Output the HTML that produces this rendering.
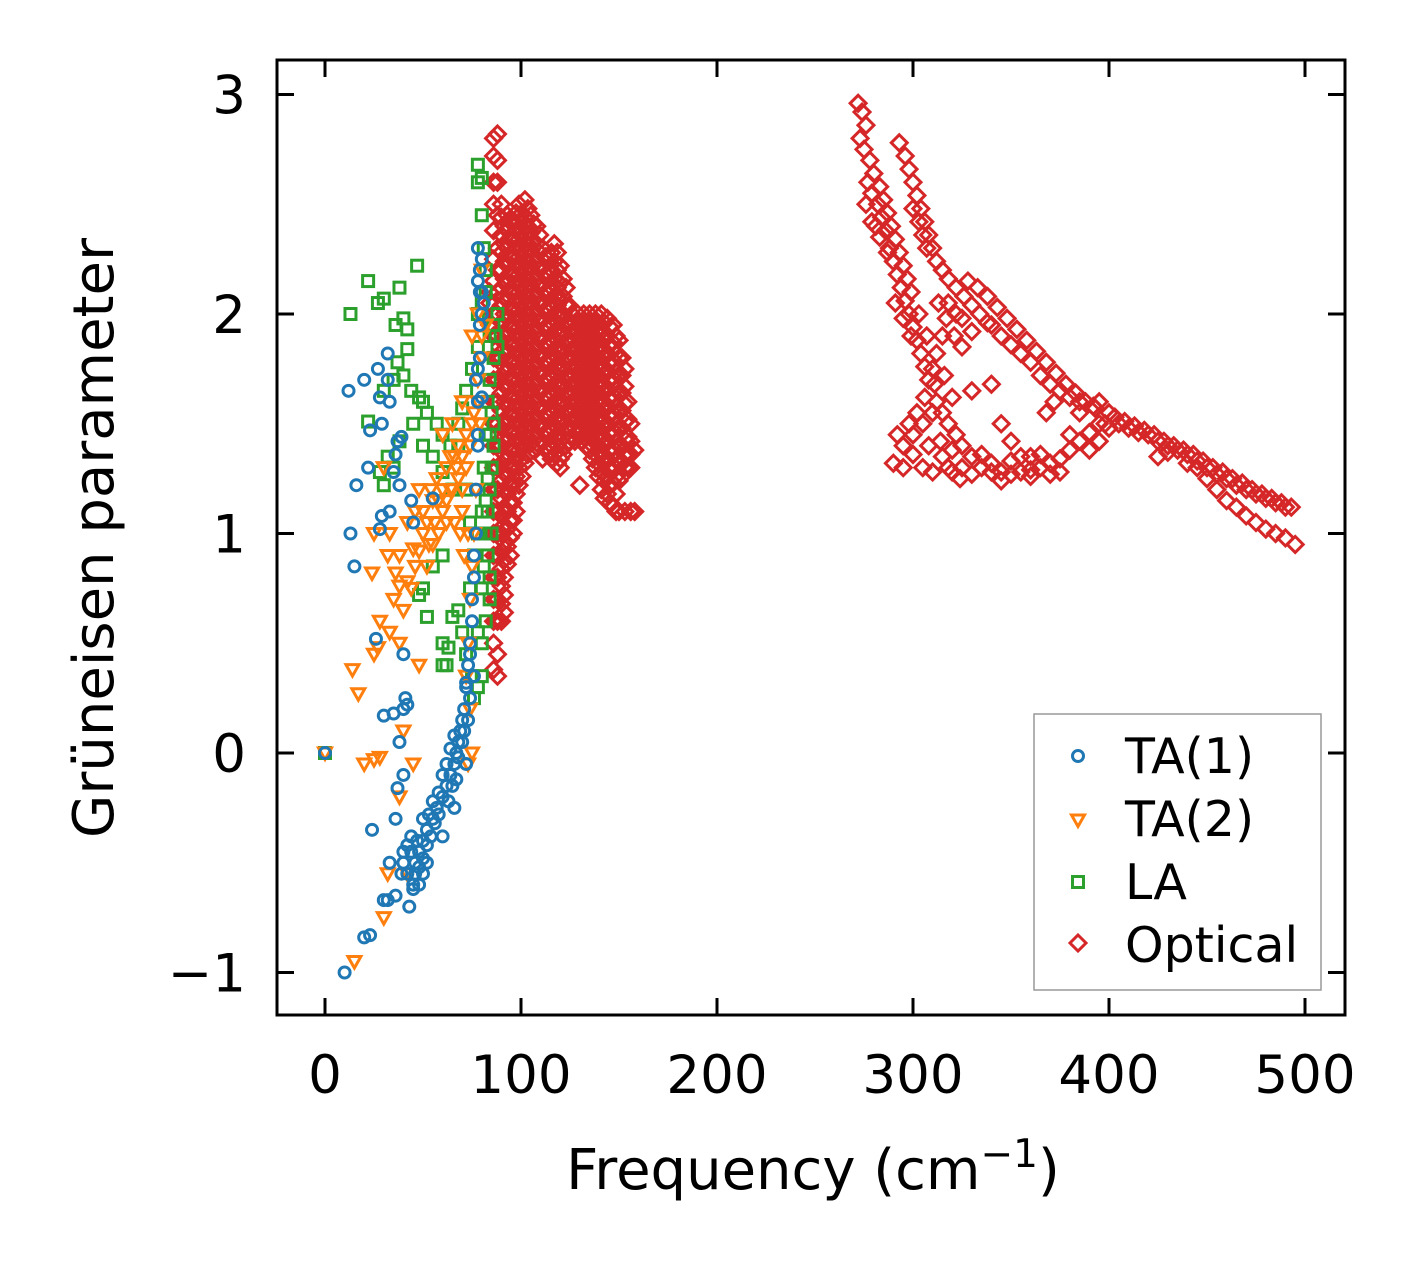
<!DOCTYPE html>
<html><head><meta charset="utf-8"><style>
html,body{margin:0;padding:0;background:#fff;}
svg{display:block;font-family:"DejaVu Sans","Liberation Sans",sans-serif;}
</style></head><body>
<svg id="chart" width="1421" height="1264" viewBox="0 0 1421 1264">
<g id="marks"></g>
<g id="axes"></g>
</svg>
<script>
// ---- data ----
const xTicks=[0,100,200,300,400,500];
const yTicks=[-1,0,1,2,3];
const yTickLabels=["\u22121","0","1","2","3"];
const seriesNames=["TA(1)","TA(2)","LA","Optical"];
const ta1=[[0,0],[10,-1],[20,-0.84],[23,-0.83],[24,-0.35],[30,-0.67],[32,-0.67],[36,-0.65],[33,-0.5],[36,-0.3],[37,-0.16],[40,-0.45],[42,-0.55],[43,-0.7],[45,-0.62],[46,-0.5],[48,-0.45],[50,-0.4],[52,-0.35],[55,-0.3],[57,-0.25],[60,-0.2],[62,-0.15],[64,-0.1],[66,-0.05],[67,0],[68,0.05],[69,0.1],[70,0.15],[71,0.2],[72,0.3],[73,0.4],[74,0.5],[75,0.6],[76,0.8],[77,1.0],[77,1.2],[78,1.4],[78,1.6],[79,1.8],[80,2.0],[80,2.1],[79,2.2],[78,2.3],[81,2.05],[40,-0.1],[38,0.05],[40,0.2],[41,0.25],[42,0.22],[35,0.18],[30,0.17],[26,0.52],[40,0.45],[15,0.85],[13,1.0],[16,1.22],[12,1.65],[22,1.3],[23,1.47],[28,1.02],[29,1.08],[33,1.1],[35,1.28],[38,1.22],[36,1.36],[37,1.42],[39,1.44],[29,1.5],[33,1.6],[28,1.62],[32,1.7],[27,1.75],[32,1.82],[20,1.7],[44,1.15],[45,1.05],[55,1.16],[72,0.32],[74,0.45],[75,0.7],[76,0.9],[78,1.45],[77,1.7],[78,1.75],[80,1.62],[44,-0.45],[46,-0.55],[48,-0.52],[50,-0.48],[52,-0.42],[54,-0.38],[56,-0.32],[58,-0.28],[42,-0.42],[44,-0.38],[47,-0.4],[50,-0.3],[53,-0.28],[55,-0.22],[58,-0.18],[60,-0.1],[62,-0.05],[64,0.02],[66,0.08],[63,-0.22],[65,-0.15],[67,-0.12],[68,-0.02],[70,0.05],[71,0.1],[45,-0.6],[48,-0.6],[50,-0.55],[52,-0.5],[40,-0.5],[39,-0.55],[60,-0.38],[66,-0.25],[72,-0.05],[73,0.15],[74,0.25],[76,0.35],[79,2.1],[80,2.25],[78,2.15],[79,1.95]];
const ta2=[[0,0],[15,-0.95],[20,-0.05],[25,-0.03],[28,-0.02],[17,0.27],[14,0.38],[25,0.45],[27,0.48],[28,0.6],[33,0.55],[38,0.5],[40,0.65],[35,0.7],[38,0.76],[42,0.78],[36,0.82],[32,0.9],[24,0.82],[25,1.0],[30,1.3],[33,1.0],[38,0.9],[42,1.05],[45,0.93],[46,0.85],[48,0.92],[50,1.0],[52,1.05],[55,0.95],[58,1.0],[60,1.1],[62,1.15],[65,1.2],[67,1.3],[70,1.35],[72,1.45],[75,1.5],[78,1.6],[80,1.8],[82,1.95],[80,1.9],[79,1.5],[77,1.2],[76,1.0],[75,0.85],[74,0.7],[73,0.5],[72,0.35],[74,0.2],[75,0.0],[73,-0.05],[50,1.1],[55,1.15],[52,0.85],[48,1.2],[57,1.25],[62,1.3],[64,1.35],[60,1.45],[65,1.5],[68,1.25],[70,1.1],[66,1.05],[44,0.75],[40,0.1],[38,-0.2],[42,-0.55],[30,-0.75],[32,-0.55],[45,-0.05],[48,0.4],[46,1.1],[75,1.9],[78,2.0],[80,2.2],[78,1.7],[70,1.6],[62,1.05],[58,1.15],[54,1.2],[68,1.4],[70,1.2],[72,1.3],[74,1.4],[76,1.55],[66,1.35],[64,1.2],[60,1.2],[56,1.05],[53,0.95],[71,0.9],[73,1.0],[69,1.0]];
const la=[[0,0],[13,2.0],[22,2.15],[27,2.05],[30,2.07],[38,2.12],[47,2.22],[36,1.95],[40,1.98],[42,1.93],[42,1.84],[35,1.7],[37,1.78],[22,1.51],[30,1.65],[40,1.72],[44,1.65],[48,1.62],[50,1.6],[52,1.55],[57,1.5],[60,1.45],[64,1.4],[68,1.4],[32,1.35],[28,1.28],[30,1.22],[35,1.3],[38,1.42],[45,1.5],[50,1.4],[55,1.35],[60,1.28],[65,1.2],[68,1.5],[70,1.57],[72,1.65],[75,1.75],[78,1.85],[78,2.0],[80,2.05],[82,2.1],[80,2.45],[78,2.6],[78,2.68],[80,2.62],[81,2.3],[82,2.2],[84,1.9],[86,1.8],[88,1.85],[88,2.0],[86,1.5],[85,1.3],[84,1.2],[83,1.1],[82,1.0],[83,0.9],[84,0.7],[82,0.6],[80,0.5],[80,0.35],[78,0.3],[76,0.25],[75,0.35],[72,0.45],[70,0.55],[68,0.65],[65,0.62],[60,0.5],[62,0.4],[63,0.48],[60,0.9],[55,0.85],[50,0.75],[52,0.62],[48,0.72],[60,0.4],[74,0.75],[76,0.9],[78,1.0],[80,1.1],[81,1.3],[82,1.45],[83,1.6],[84,1.7],[86,1.4],[85,1.0],[84,0.8],[78,0.55],[74,1.05],[72,1.2],[86,1.95],[87,1.9],[85,1.55],[84,1.45],[83,1.25],[82,1.15],[81,0.85],[80,0.75]];
const opticalColumns="84:1.95,2.05,2.1;86:2.8,2.72,2.6,2.5,2.38,2.25,2.15,2.0,1.9,1.8,1.7,1.6,1.5,1.4,1.3,1.2,1.1,1.0,0.9,0.8,0.7,0.6,0.5,0.38;88:2.82,2.7,2.6,2.45,2.3,2.2,2.1,2.0,1.9,1.8,1.7,1.6,1.5,1.4,1.3,1.2,1.1,1.0,0.9,0.8,0.7,0.6,0.45,0.35;90:2.5,2.44,2.36,2.28,2.2,2.12,2.04,1.96,1.88,1.8,1.72,1.64,1.56,1.48,1.4,1.32,1.24,1.16,1.08,1.0,0.92,0.84,0.76,0.68,0.6;93:2.45,2.38,2.3,2.22,2.14,2.06,1.98,1.9,1.82,1.74,1.66,1.58,1.5,1.42,1.34,1.26,1.18,1.1,1.02,0.94,0.86;96:2.42,2.34,2.26,2.18,2.1,2.02,1.94,1.86,1.78,1.7,1.62,1.54,1.46,1.38,1.3,1.22,1.14,1.06,1.0;99:2.5,2.42,2.34,2.26,2.18,2.1,2.02,1.94,1.86,1.78,1.7,1.62,1.54,1.46,1.38,1.3,1.22;102:2.52,2.44,2.36,2.28,2.2,2.12,2.04,1.96,1.88,1.8,1.72,1.64,1.56,1.48,1.4,1.32;105:2.45,2.37,2.29,2.21,2.13,2.05,1.97,1.89,1.81,1.73,1.65,1.57,1.49,1.41;108:2.4,2.32,2.24,2.16,2.08,2.0,1.92,1.84,1.76,1.68,1.6,1.52,1.44;111:2.3,2.22,2.14,2.06,1.98,1.9,1.82,1.74,1.66,1.58,1.5,1.42,1.34;114:2.25,2.17,2.09,2.01,1.93,1.85,1.77,1.69,1.61,1.53,1.45,1.37;117:2.32,2.24,2.16,2.08,2.0,1.92,1.84,1.76,1.68,1.6,1.52,1.44,1.36;120:2.22,2.14,2.06,1.98,1.9,1.82,1.74,1.66,1.58,1.5,1.42,1.34,1.3;123:2.12,2.04,1.96,1.88,1.8,1.72,1.64,1.56,1.48,1.4;126:2.0,1.92,1.84,1.76,1.68,1.6,1.52,1.44;129:2.0,1.92,1.84,1.76,1.68,1.6,1.52,1.45;130:1.22;132:2.0,1.92,1.84,1.76,1.68,1.6,1.52,1.44;135:2.0,1.92,1.84,1.76,1.68,1.6,1.52,1.44,1.38;138:2.0,1.92,1.84,1.76,1.68,1.6,1.52,1.44,1.36,1.3;141:2.0,1.92,1.84,1.76,1.68,1.6,1.52,1.44,1.36,1.28,1.2;144:1.98,1.9,1.82,1.74,1.66,1.58,1.5,1.42,1.34,1.26,1.18;147:1.95,1.87,1.79,1.71,1.63,1.55,1.47,1.39,1.31,1.23,1.12;150:1.88,1.8,1.72,1.64,1.56,1.48,1.4,1.32,1.24,1.1;153:1.75,1.67,1.59,1.51,1.43,1.36,1.3,1.1;156:1.5,1.42,1.36,1.3,1.1;158:1.38,1.1";
const opticalColumnsFill="91.5:2.4,2.32,2.24,2.16,2.08,2.0,1.92,1.84,1.76,1.68,1.6,1.52,1.44,1.36,1.28,1.2,1.12,1.04,0.96,0.88,0.8,0.72,0.64;94.5:2.42,2.34,2.26,2.18,2.1,2.02,1.94,1.86,1.78,1.7,1.62,1.54,1.46,1.38,1.3,1.22,1.14,1.06,0.98,0.9;97.5:2.46,2.38,2.3,2.22,2.14,2.06,1.98,1.9,1.82,1.74,1.66,1.58,1.5,1.42,1.34,1.26,1.18,1.1;100.5:2.46,2.38,2.3,2.22,2.14,2.06,1.98,1.9,1.82,1.74,1.66,1.58,1.5,1.42,1.34,1.26;103.5:2.48,2.4,2.32,2.24,2.16,2.08,2.0,1.92,1.84,1.76,1.68,1.6,1.52,1.44,1.36;106.5:2.41,2.33,2.25,2.17,2.09,2.01,1.93,1.85,1.77,1.69,1.61,1.53,1.45,1.38;109.5:2.36,2.28,2.2,2.12,2.04,1.96,1.88,1.8,1.72,1.64,1.56,1.48,1.4;112.5:2.26,2.18,2.1,2.02,1.94,1.86,1.78,1.7,1.62,1.54,1.46,1.38;115.5:2.28,2.2,2.12,2.04,1.96,1.88,1.8,1.72,1.64,1.56,1.48,1.4,1.34;118.5:2.28,2.2,2.12,2.04,1.96,1.88,1.8,1.72,1.64,1.56,1.48,1.4,1.32;121.5:2.16,2.08,2.0,1.92,1.84,1.76,1.68,1.6,1.52,1.44,1.36;124.5:2.04,1.96,1.88,1.8,1.72,1.64,1.56,1.48,1.42;127.5:1.96,1.88,1.8,1.72,1.64,1.56,1.48,1.42;130.5:1.96,1.88,1.8,1.72,1.64,1.56,1.48,1.42;133.5:1.96,1.88,1.8,1.72,1.64,1.56,1.48,1.4;136.5:1.96,1.88,1.8,1.72,1.64,1.56,1.48,1.4,1.34;139.5:1.96,1.88,1.8,1.72,1.64,1.56,1.48,1.4,1.32,1.26;142.5:1.96,1.88,1.8,1.72,1.64,1.56,1.48,1.4,1.32,1.24,1.16;145.5:1.94,1.86,1.78,1.7,1.62,1.54,1.46,1.38,1.3,1.22,1.14;148.5:1.9,1.82,1.74,1.66,1.58,1.5,1.42,1.34,1.26,1.18,1.1;151.5:1.8,1.72,1.64,1.56,1.48,1.4,1.32,1.26;154.5:1.6,1.52,1.44,1.36,1.3";
const opticalHigh=[[272,2.96],[274,2.92],[276,2.86],[273,2.8],[275,2.75],[278,2.7],[280,2.64],[277,2.6],[279,2.55],[282,2.5],[284,2.44],[281,2.4],[286,2.38],[288,2.3],[290,2.24],[292,2.18],[294,2.12],[296,2.06],[298,2.0],[300,1.94],[302,1.88],[304,1.82],[306,1.76],[308,1.7],[283,2.58],[285,2.52],[287,2.46],[289,2.4],[291,2.34],[293,2.28],[295,2.22],[297,2.16],[299,2.1],[293,2.78],[296,2.72],[298,2.66],[300,2.6],[302,2.54],[304,2.48],[306,2.42],[308,2.36],[310,2.3],[312,2.24],[300,2.48],[303,2.42],[305,2.36],[307,2.3],[315,2.2],[318,2.16],[322,2.12],[326,2.08],[330,2.04],[334,2.0],[338,1.96],[318,2.05],[322,2.0],[315,1.9],[312,1.82],[310,1.75],[311,1.68],[312,1.6],[315,1.55],[318,1.5],[322,1.45],[325,1.4],[330,1.35],[335,1.3],[340,1.28],[345,1.28],[350,1.27],[355,1.28],[360,1.29],[365,1.3],[370,1.32],[375,1.34],[380,1.38],[385,1.42],[390,1.46],[395,1.5],[400,1.55],[330,1.65],[340,1.68],[345,1.5],[350,1.42],[360,1.35],[368,1.55],[372,1.6],[328,2.15],[333,2.12],[338,2.08],[343,2.03],[348,1.98],[353,1.93],[358,1.88],[363,1.83],[368,1.78],[373,1.73],[378,1.68],[383,1.64],[388,1.6],[393,1.57],[340,1.95],[345,1.9],[350,1.86],[355,1.82],[360,1.78],[365,1.72],[370,1.68],[375,1.65],[380,1.62],[385,1.6],[392,1.58],[290,1.32],[295,1.4],[300,1.45],[305,1.5],[310,1.55],[292,1.45],[298,1.5],[305,1.3],[310,1.28],[315,1.35],[320,1.38],[325,1.3],[330,1.27],[295,1.3],[300,1.36],[302,1.55],[306,1.62],[308,1.4],[320,1.28],[340,1.32],[350,1.33],[360,1.26],[370,1.27],[320,1.62],[316,1.72],[325,1.98],[330,1.92],[405,1.5],[410,1.48],[415,1.46],[420,1.45],[425,1.42],[430,1.4],[435,1.38],[440,1.36],[445,1.33],[450,1.3],[455,1.27],[460,1.25],[465,1.22],[470,1.2],[475,1.18],[480,1.16],[485,1.14],[490,1.12],[403,1.53],[408,1.51],[413,1.49],[418,1.47],[423,1.45],[428,1.42],[433,1.4],[438,1.38],[443,1.36],[448,1.33],[453,1.3],[458,1.28],[463,1.25],[468,1.23],[473,1.2],[478,1.18],[483,1.16],[488,1.14],[493,1.12],[425,1.35],[430,1.37],[440,1.32],[445,1.3],[450,1.25],[455,1.2],[460,1.15],[465,1.12],[470,1.08],[475,1.05],[480,1.02],[485,1.0],[490,0.98],[495,0.95],[398,1.5],[395,1.42],[390,1.38],[276,2.5],[279,2.42],[283,2.35],[287,2.28],[291,2.05],[295,1.98],[299,1.9],[303,2.0],[307,1.9],[313,2.05],[317,1.98],[321,1.9],[325,1.85],[314,1.42],[318,1.3],[324,1.25],[335,1.36],[345,1.24],[355,1.35],[365,1.36],[375,1.28],[380,1.45],[385,1.55],[395,1.6],[400,1.48]];

// ---- axes functions ----
const L=277,R=1345,T=60,B=1015;
function xs(v){return 325+v*1.96;}
function ys(v){return 753-v*219.5;}
const NS="http://www.w3.org/2000/svg";
function mk(tag,attrs,parent){const e=document.createElementNS(NS,tag);for(const k in attrs)e.setAttribute(k,attrs[k]);parent.appendChild(e);return e;}

const optical=[];
[opticalColumns,opticalColumnsFill].forEach(str=>str.split(";").forEach(c=>{const [x,ys_]=c.split(":");ys_.split(",").forEach(y=>optical.push([+x,+y]));}));
opticalHigh.forEach(p=>optical.push(p));

const colors=["#1f77b4","#ff7f0e","#2ca02c","#d62728"];
function marker(shape,cx,cy,color,parent){
  let e;
  if(shape===0){e=mk("circle",{cx:cx,cy:cy,r:5.5,fill:"none",stroke:color,"stroke-width":3},parent);}
  else if(shape===1){e=mk("polygon",{points:`${cx-6.5},${cy-5} ${cx+6.5},${cy-5} ${cx},${cy+6.5}`,fill:"none",stroke:color,"stroke-width":3},parent);}
  else if(shape===2){e=mk("rect",{x:cx-5.5,y:cy-5.5,width:11,height:11,fill:"none",stroke:color,"stroke-width":3},parent);}
  else {e=mk("polygon",{points:`${cx},${cy-8} ${cx+8},${cy} ${cx},${cy+8} ${cx-8},${cy}`,fill:"none",stroke:color,"stroke-width":3},parent);}
  return e;
}
const marks=document.getElementById("marks");
const allSeries=[ta1,ta2,la,optical];
const groupNames=["ta1-series","ta2-series","la-series","optical-series"];
for(let s=3;s>=0;s--){
  const g=mk("g",{},marks);
  
  
  allSeries[s].forEach(p=>{
    const m=marker(s,xs(p[0]),ys(p[1]),colors[s],g);
    
    
  });
}

// ---- axes ----
const ax=document.getElementById("axes");
const frame=mk("rect",{x:L,y:T,width:R-L,height:B-T,fill:"none",stroke:"#000","stroke-width":3},ax);


xTicks.forEach(v=>{
  const x=xs(v);
  mk("line",{x1:x,y1:B,x2:x,y2:B-17,stroke:"#000","stroke-width":3},ax);
  mk("line",{x1:x,y1:T,x2:x,y2:T+17,stroke:"#000","stroke-width":3},ax);
  const t=mk("text",{x:x,y:B+78,"font-size":53,"text-anchor":"middle"},ax);
  t.textContent=String(v);
  
  
});
yTicks.forEach((v,i)=>{
  const y=ys(v);
  mk("line",{x1:L,y1:y,x2:L+17,y2:y,stroke:"#000","stroke-width":3},ax);
  mk("line",{x1:R,y1:y,x2:R-17,y2:y,stroke:"#000","stroke-width":3},ax);
  const t=mk("text",{x:246,y:y+19,"font-size":53,"text-anchor":"end"},ax);
  t.textContent=yTickLabels[i];
  
  
});
</script>
<svg style="position:absolute;left:0;top:0" width="1421" height="1264">
<text x="813" y="1189" font-size="56" text-anchor="middle" font-family="DejaVu Sans, Liberation Sans, sans-serif">Frequency (cm<tspan dy="-22" font-size="39">−1</tspan><tspan dy="22">)</tspan></text>
<text transform="translate(113,538) rotate(-90)" font-size="56" text-anchor="middle" font-family="DejaVu Sans, Liberation Sans, sans-serif">Grüneisen parameter</text>
<g font-family="DejaVu Sans, Liberation Sans, sans-serif" font-size="49">
<rect x="1034" y="714" width="287" height="276" fill="#fff" fill-opacity="0.8" stroke="#999" stroke-width="1.5"/>
<g><circle cx="1078" cy="756" r="5.5" fill="none" stroke="#1f77b4" stroke-width="3"/><text x="1125" y="773">TA(1)</text></g>
<g><polygon points="1071.5,815 1084.5,815 1078,826.5" fill="none" stroke="#ff7f0e" stroke-width="3"/><text x="1125" y="836">TA(2)</text></g>
<g><rect x="1072.5" y="876.5" width="11" height="11" fill="none" stroke="#2ca02c" stroke-width="3"/><text x="1125" y="899">LA</text></g>
<g><polygon points="1078,935 1086,943 1078,951 1070,943" fill="none" stroke="#d62728" stroke-width="3"/><text x="1125" y="962">Optical</text></g>
</g>
</svg>
</body></html>
